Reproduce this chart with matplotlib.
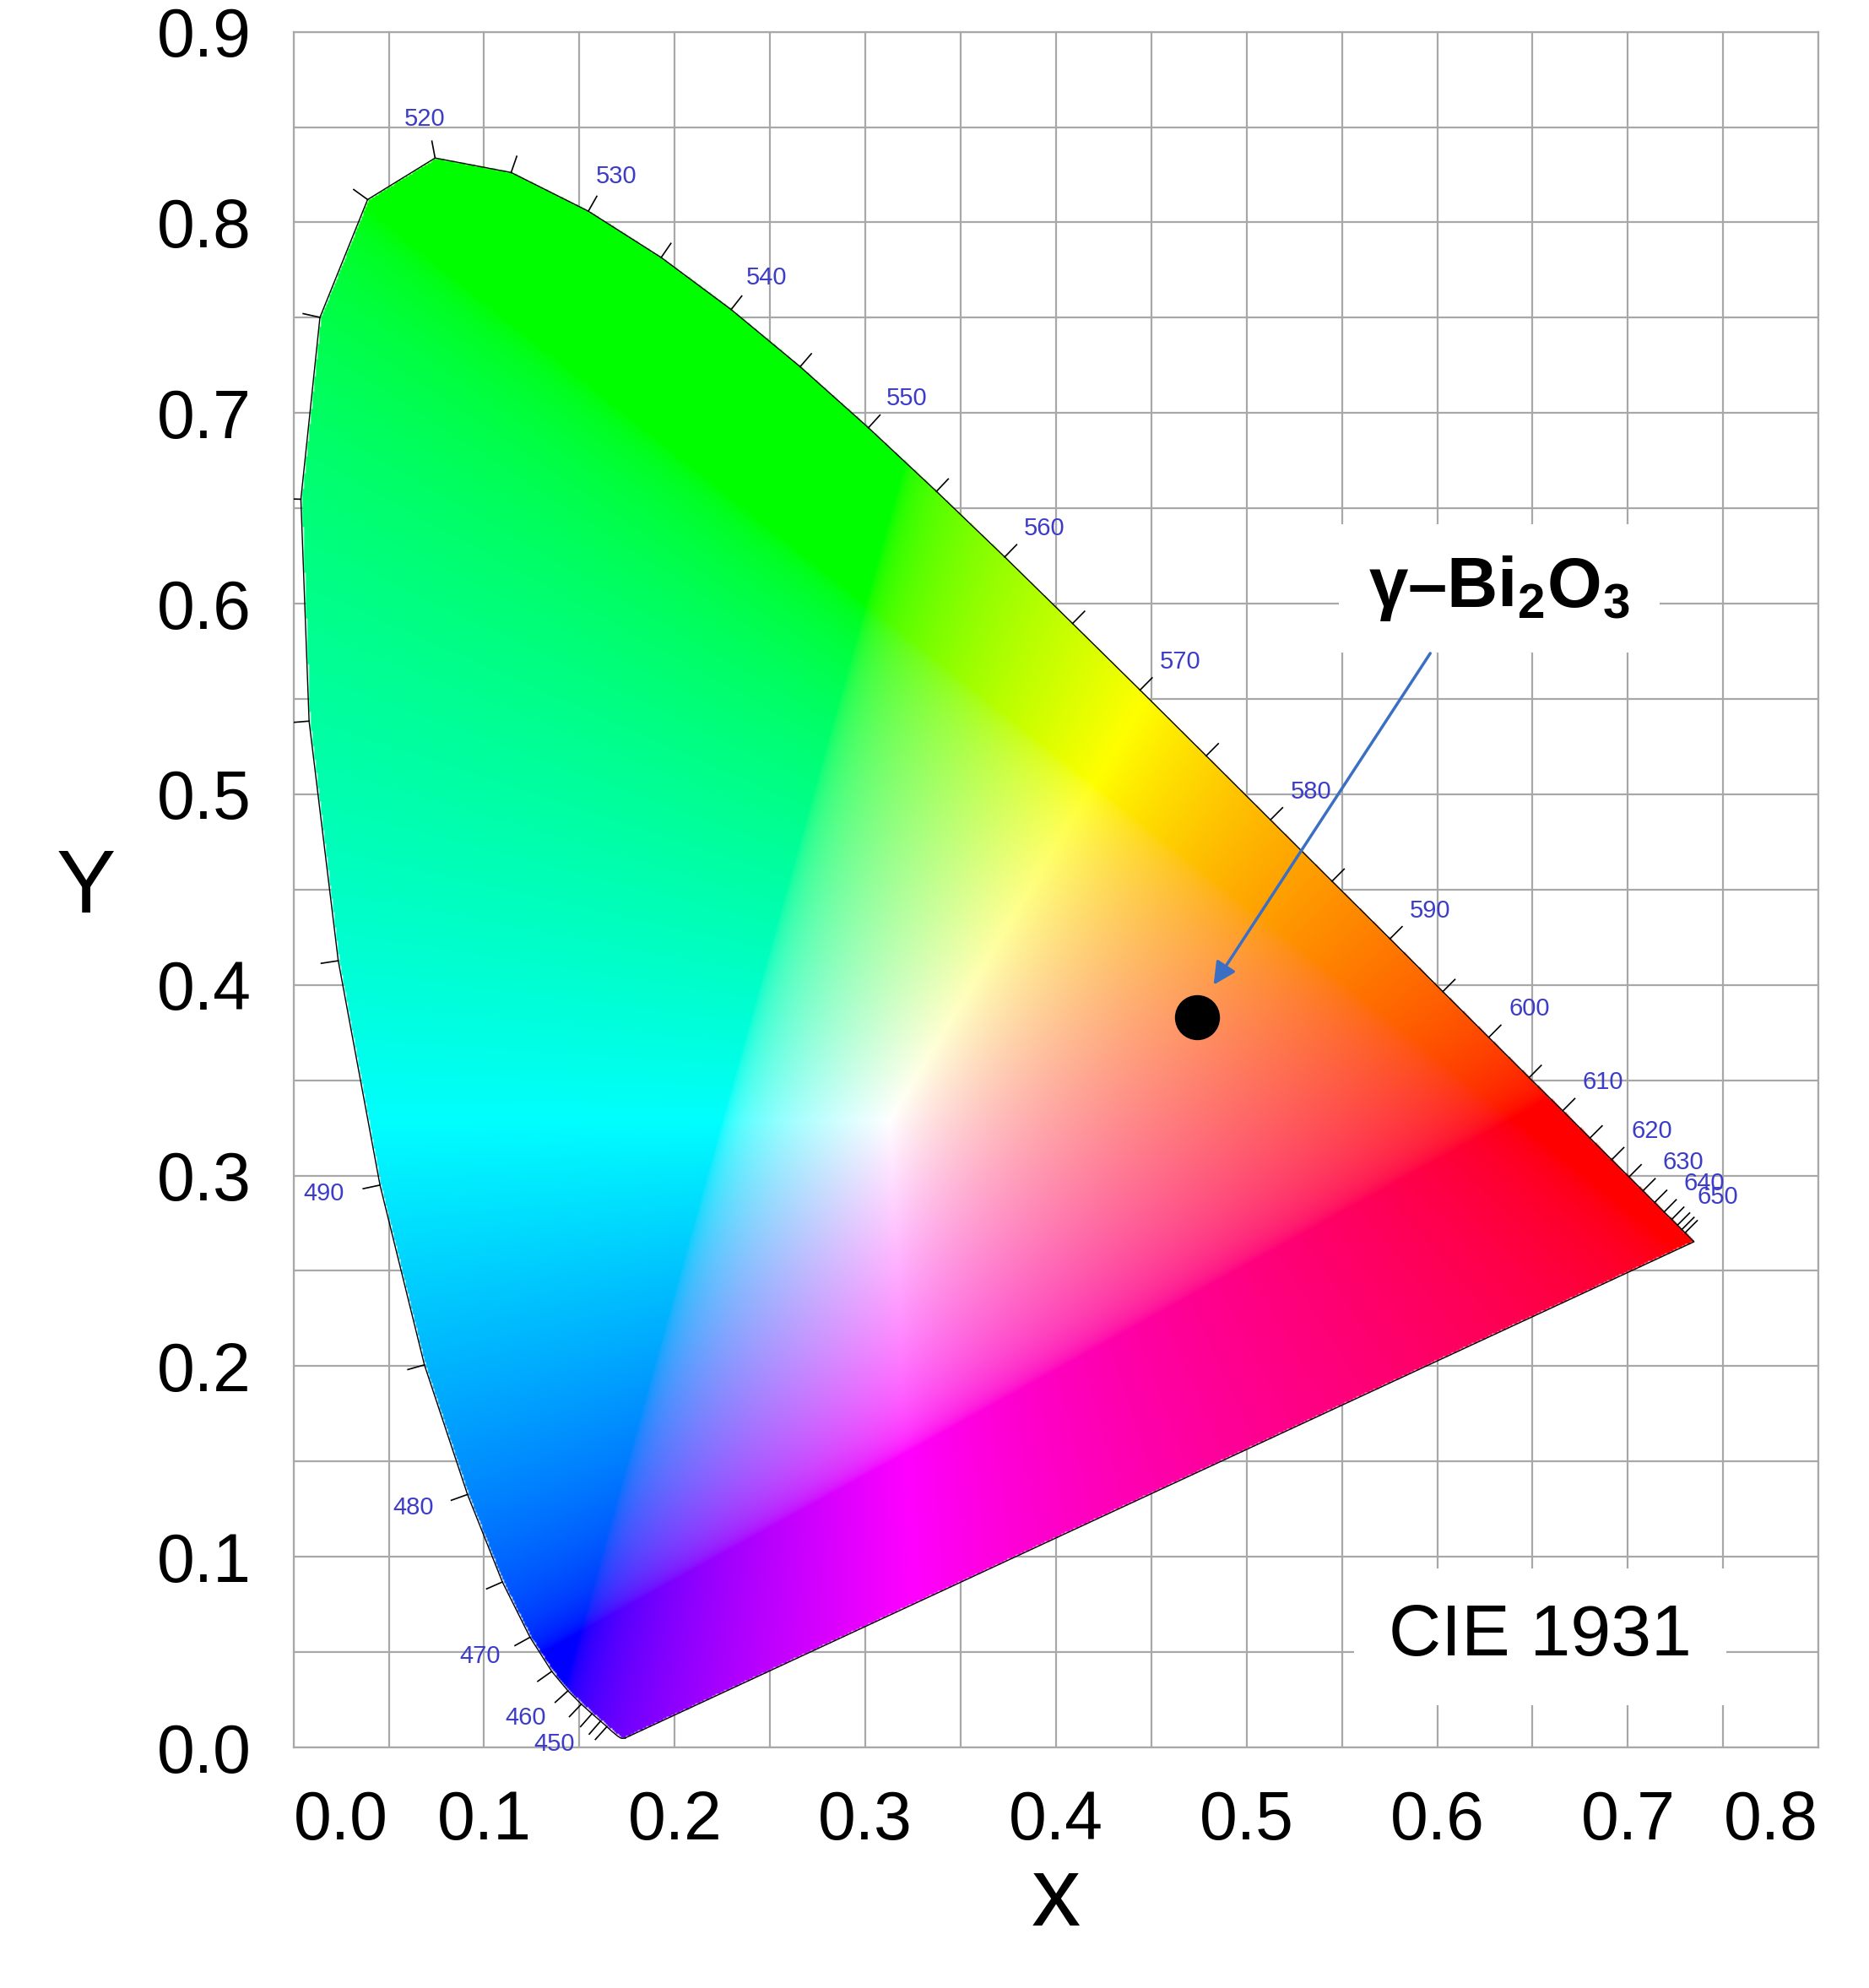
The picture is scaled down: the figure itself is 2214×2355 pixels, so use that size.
import numpy as np
import matplotlib
matplotlib.use('Agg')
import matplotlib.pyplot as plt
from matplotlib.path import Path

plt.rcParams['font.family'] = ['Liberation Sans', 'DejaVu Sans']
plt.rcParams['mathtext.fontset'] = 'custom'
plt.rcParams['mathtext.rm'] = 'Liberation Sans'
plt.rcParams['mathtext.bf'] = 'Liberation Sans:bold'

# CIE 1931 2-degree spectral locus (wavelength nm, x, y)
wavelengths = [380, 385, 390, 395, 400, 405, 410, 415, 420, 425, 430, 435, 440, 445,
               450, 455, 460, 465, 470, 475, 480, 485, 490, 495, 500, 505, 510, 515,
               520, 525, 530, 535, 540, 545, 550, 555, 560, 565, 570, 575, 580, 585,
               590, 595, 600, 605, 610, 615, 620, 625, 630, 635, 640, 645, 650, 655,
               660, 700]
locus_x = [0.1741, 0.1740, 0.1738, 0.1736, 0.1733, 0.1730, 0.1726, 0.1721, 0.1714, 0.1703,
           0.1689, 0.1669, 0.1644, 0.1611, 0.1566, 0.1510, 0.1440, 0.1355, 0.1241, 0.1096,
           0.0913, 0.0687, 0.0454, 0.0235, 0.0082, 0.0039, 0.0139, 0.0389, 0.0743, 0.1142,
           0.1547, 0.1929, 0.2296, 0.2658, 0.3016, 0.3373, 0.3731, 0.4087, 0.4441, 0.4788,
           0.5125, 0.5448, 0.5752, 0.6029, 0.6270, 0.6482, 0.6658, 0.6801, 0.6915, 0.7006,
           0.7079, 0.7140, 0.7190, 0.7230, 0.7260, 0.7283, 0.7300, 0.7347]
locus_y = [0.0050, 0.0050, 0.0049, 0.0049, 0.0048, 0.0048, 0.0048, 0.0048, 0.0051, 0.0058,
           0.0069, 0.0086, 0.0109, 0.0138, 0.0177, 0.0227, 0.0297, 0.0399, 0.0578, 0.0868,
           0.1327, 0.2007, 0.2950, 0.4127, 0.5384, 0.6548, 0.7502, 0.8120, 0.8338, 0.8262,
           0.8059, 0.7816, 0.7543, 0.7243, 0.6923, 0.6589, 0.6245, 0.5896, 0.5547, 0.5202,
           0.4866, 0.4544, 0.4242, 0.3965, 0.3725, 0.3514, 0.3340, 0.3197, 0.3083, 0.2993,
           0.2920, 0.2859, 0.2809, 0.2770, 0.2740, 0.2717, 0.2700, 0.2653]
label_wl = [450, 460, 470, 480, 490, 520, 530, 540, 550, 560, 570, 580, 590, 600,
            610, 620, 630, 640, 650]

sample_name = r'$\mathbf{\gamma}$–Bi$_\mathbf{2}$O$_\mathbf{3}$'
sample_x = [0.474]
sample_y = [0.383]

fig = plt.figure(figsize=(22.14, 23.55), dpi=100)
ax = fig.add_axes([0.157, 0.121, 0.816, 0.863])
ax.set_xlim(0, 0.8)
ax.set_ylim(0, 0.9)

# grid every 0.05
for v in np.arange(0, 0.8001, 0.05):
    ax.axvline(v, color='#a8a8a8', lw=1.6, zorder=0)
for v in np.arange(0, 0.9001, 0.05):
    ax.axhline(v, color='#a8a8a8', lw=1.6, zorder=0)
for s in ax.spines.values():
    s.set_color('#a8a8a8')
    s.set_linewidth(1.6)

# colour fill of the horseshoe
lx = np.array(locus_x)
ly = np.array(locus_y)
n = 900
gx, gy = np.meshgrid(np.linspace(0, 0.8, n), np.linspace(0, 0.9, n))
gy_safe = np.maximum(gy, 1e-4)
X = gx / gy_safe
Y = np.ones_like(gx)
Z = (1 - gx - gy) / gy_safe
M = np.array([[3.2406, -1.5372, -0.4986],
              [-0.9689, 1.8758, 0.0415],
              [0.0557, -0.2040, 1.0570]])
rgb = np.tensordot(np.stack([X, Y, Z], -1), M.T, axes=1)
rgb = np.clip(rgb, 0, None)
rgb = rgb / np.maximum(rgb.max(axis=-1, keepdims=True), 1e-9)
rgb = np.where(rgb <= 0.0031308, 12.92 * rgb, 1.055 * np.power(rgb, 1 / 2.4) - 0.055)
rgb = np.clip(rgb, 0, 1)
poly = Path(np.column_stack([lx, ly]))
inside = poly.contains_points(np.column_stack([gx.ravel(), gy.ravel()])).reshape(gx.shape)
rgba = np.dstack([rgb, inside.astype(float)])
ax.imshow(rgba, origin='lower', extent=[0, 0.8, 0, 0.9], aspect='auto',
          interpolation='bilinear', zorder=1)
ax.plot(np.append(lx, lx[0]), np.append(ly, ly[0]), color='black', lw=1.0, zorder=2)

# wavelength ticks and labels
for i, w in enumerate(wavelengths):
    if w < 440 or w > 660 or i == 0 or i == len(wavelengths) - 1:
        continue
    tx = lx[i + 1] - lx[i - 1]
    ty = ly[i + 1] - ly[i - 1]
    nx, ny = ty, -tx
    norm = np.hypot(nx, ny)
    nx, ny = nx / norm, ny / norm
    if (lx[i] - 0.33) * nx + (ly[i] - 0.33) * ny < 0:
        nx, ny = -nx, -ny
    ax.plot([lx[i], lx[i] + 0.009 * nx], [ly[i], ly[i] + 0.009 * ny],
            color='black', lw=1.2, zorder=3)
    if w in label_wl:
        ax.text(lx[i] + 0.030 * nx, ly[i] + 0.021 * ny, str(w), color='#3c3cc8',
                fontsize=21, ha='center', va='center', zorder=4)

# sample point and annotation
ax.scatter(sample_x, sample_y, s=1400, color='black', zorder=5)
ax.text(0.6325, 0.608, sample_name, fontsize=60, fontweight='bold', ha='center',
        va='center', zorder=6,
        bbox=dict(facecolor='white', edgecolor='none', pad=25))
ax.annotate('', xy=(sample_x[0] + 0.008, sample_y[0] + 0.016), xytext=(0.597, 0.575),
            arrowprops=dict(arrowstyle='-|>', color='#3a6fc4', lw=2.5, mutation_scale=40),
            zorder=6)
ax.text(0.654, 0.058, 'CIE 1931', fontsize=62, ha='center', va='center', zorder=6,
        bbox=dict(facecolor='white', edgecolor='none', pad=30))

ax.set_xticks(np.arange(0, 0.81, 0.1))
ax.set_yticks(np.arange(0, 0.91, 0.1))
ax.set_xticklabels([f'{v:.1f}' for v in np.arange(0, 0.81, 0.1)])
ax.set_yticklabels([f'{v:.1f}' for v in np.arange(0, 0.91, 0.1)])
ax.tick_params(length=0, labelsize=58, pad=36)
xl = ax.get_xticklabels()
xl[0].set_ha('left')
xl[-1].set_ha('right')
ax.set_xlabel('x', fontsize=84, labelpad=0)
ax.set_ylabel('Y', fontsize=76, rotation=0, labelpad=60, va='center')

fig.savefig('out.png', dpi=100)
